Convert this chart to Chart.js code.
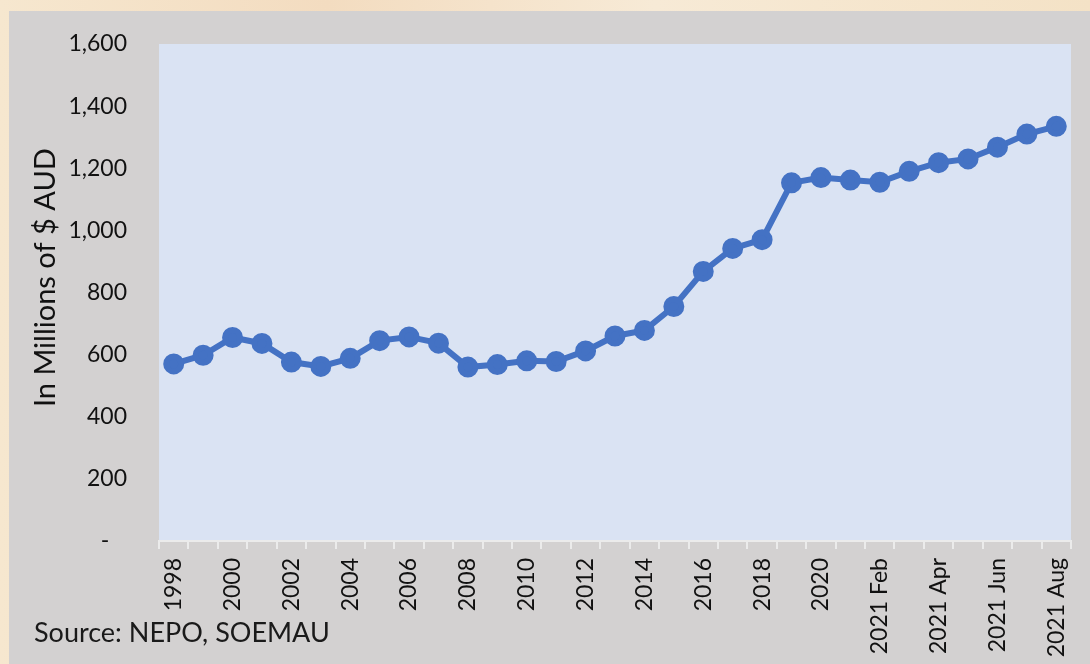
<!DOCTYPE html>
<html>
<head>
<meta charset="utf-8">
<script src="https://cdn.jsdelivr.net/npm/chart.js@4"></script>
<style>
  html, body { margin: 0; padding: 0; }
  body {
    width: 1090px; height: 664px; overflow: hidden; position: relative;
    background: linear-gradient(90deg, #f6e7cf 0%, #f3dcc0 30%, #f7ead6 60%, #f4e2c6 100%);
  }
  #frame {
    position: absolute; left: 9px; top: 11px; width: 1081px; height: 653px;
    background: #d3d1d1;
  }
  #myChart { display: block; }
  #source {
    position: absolute; left: 25px; top: 604px;
    font-family: Lato, sans-serif; font-size: 27px; color: #1a1a1a;
  }
</style>
</head>
<body>
<div id="frame">
  <canvas id="myChart"></canvas>
  <div id="source">Source: NEPO, SOEMAU</div>
</div>
<script>
// категории по оси X
const labels = [
  '1998', '1999', '2000', '2001', '2002', '2003', '2004', '2005',
  '2006', '2007', '2008', '2009', '2010', '2011', '2012', '2013',
  '2014', '2015', '2016', '2017', '2018', '2019', '2020',
  '2021 Jan', '2021 Feb', '2021 Mar', '2021 Apr', '2021 May',
  '2021 Jun', '2021 Jul', '2021 Aug'
];

// значения, млн AUD
const values = [
  570, 598, 655, 636, 576, 562, 588, 645,
  657, 637, 560, 568, 580, 578, 612, 660,
  678, 755, 868, 942, 970, 1153, 1170,
  1162, 1155, 1190, 1218, 1230,
  1268, 1310, 1335
];

const yTicks = [0, 200, 400, 600, 800, 1000, 1200, 1400, 1600];

// заливка области графика
const plotBg = {
  id: 'plotBg',
  beforeDraw(chart) {
    const { ctx, chartArea: a } = chart;
    ctx.save();
    ctx.fillStyle = '#dae3f3';
    ctx.fillRect(a.left, a.top, a.right - a.left, a.bottom - a.top);
    ctx.restore();
  }
};

const canvas = document.getElementById('myChart');
canvas.width = 1081;
canvas.height = 653;

const myChart = new Chart(canvas, {
  type: 'line',
  data: {
    labels: labels,
    datasets: [{
      data: values,
      borderColor: '#4472c4',
      backgroundColor: '#4472c4',
      borderWidth: 6,
      pointRadius: 7.5,
      pointHoverRadius: 7.5,
      tension: 0
    }]
  },
  options: {
    responsive: false,
    animation: false,
    layout: { padding: { top: 33, right: 19, left: 0, bottom: 0 } },
    plugins: { legend: { display: false }, tooltip: { enabled: false } },
    scales: {
      x: {
        offset: true,
        afterFit: s => { s.height = 123; s.paddingLeft = 0; s.paddingRight = 0; },
        border: { color: '#ebebeb', width: 2 },
        grid: {
          offset: true, drawOnChartArea: false, drawTicks: true,
          tickLength: 8, color: '#ebebeb', lineWidth: 2
        },
        ticks: {
          autoSkip: false, maxRotation: 90, minRotation: 90, padding: 9,
          color: '#111',
          font: { family: 'Lato', size: 23 },
          callback: function (v, i) { return i % 2 === 0 ? labels[i] : ''; }
        }
      },
      y: {
        min: 0, max: 1600,
        afterFit: s => { s.width = 150; s.paddingTop = 0; s.paddingBottom = 0; },
        afterBuildTicks: s => { s.ticks = yTicks.map(v => ({ value: v })); },
        border: { display: false },
        grid: { display: false, drawTicks: false },
        title: {
          display: true, text: '\u00a0\u00a0\u00a0\u00a0In Millions of $ AUD',
          color: '#111', font: { family: 'Lato', size: 29 },
          padding: { top: 19, bottom: 0 }
        },
        ticks: {
          padding: 32, color: '#111',
          font: { family: 'Lato', size: 23 },
          callback: v => v === 0 ? '-\u00a0\u00a0\u00a0' : v.toLocaleString('en-US')
        }
      }
    }
  },
  plugins: [plotBg]
});
</script>
</body>
</html>
